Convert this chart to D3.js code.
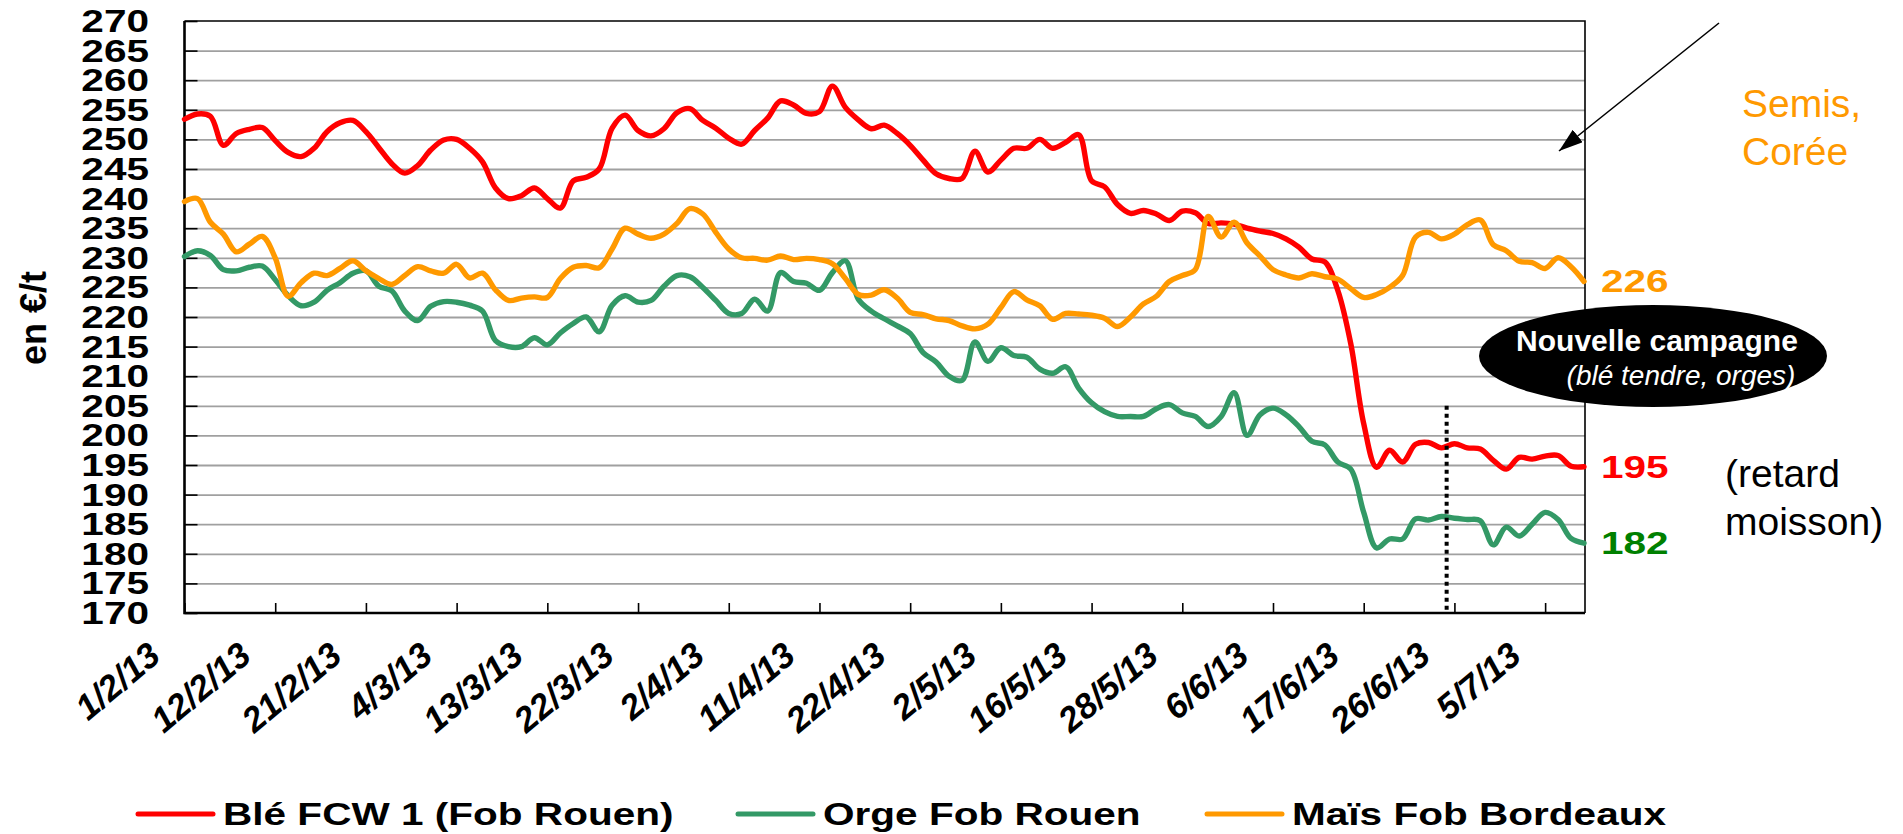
<!DOCTYPE html>
<html>
<head>
<meta charset="utf-8">
<script src="https://cdn.jsdelivr.net/npm/d3@7"></script>
<style>
  body { margin: 0; background: #fff; }
  svg { display: block; font-family: "Liberation Sans", Arial, Helvetica, sans-serif; }
</style>
</head>
<body>
<div id="chart"></div>
<script>
// x axis: one category per quoted day, a label every 7 categories
var tickLabels = ["1/2/13", "12/2/13", "21/2/13", "4/3/13", "13/3/13", "22/3/13", "2/4/13", "11/4/13",
                  "22/4/13", "2/5/13", "16/5/13", "28/5/13", "6/6/13", "17/6/13", "26/6/13", "5/7/13"];
var tickEvery = 7;

// Blé FCW 1 (Fob Rouen), €/t
var ble = [253.4, 254.3, 253.9, 249.0, 251.0, 251.7, 252.0, 249.8, 247.8, 247.1,
           248.5, 251.3, 252.8, 253.2, 251.3, 248.6, 245.9, 244.3, 245.6, 248.2,
           249.9, 250.0, 248.5, 246.2, 241.8, 240.0, 240.5, 241.8, 240.0, 238.4,
           243.0, 243.6, 245.0, 251.9, 254.1, 251.5, 250.6, 251.8, 254.5, 255.2,
           253.2, 251.9, 250.2, 249.2, 251.5, 253.6, 256.5, 255.8, 254.4, 254.7,
           259.0, 255.4, 253.3, 251.8, 252.4, 251.0, 249.0, 246.5, 244.2, 243.4,
           243.4, 248.0, 244.5, 246.5, 248.5, 248.5, 250.0, 248.5, 249.5, 250.8,
           243.0, 242.0, 239.0, 237.5, 238.0, 237.4, 236.3, 237.9, 237.6, 235.8,
           235.9, 235.7, 235.0, 234.5, 234.1, 233.2, 231.8, 229.8, 229.3, 224.5,
           215.5, 202.0, 194.6, 197.5, 195.5, 198.5, 198.8, 197.9, 198.6, 197.9,
           197.7, 195.8, 194.3, 196.3, 196.0, 196.5, 196.6, 194.8, 194.7];

// Orge Fob Rouen, €/t
var orge = [230.2, 231.2, 230.4, 228.0, 227.8, 228.4, 228.6, 226.3, 223.6, 221.9,
            222.5, 224.5, 225.8, 227.4, 227.8, 225.2, 224.4, 221.0, 219.4, 221.8,
            222.6, 222.5, 222.0, 221.0, 216.0, 215.0, 215.0, 216.5, 215.3, 217.3,
            218.9, 220.0, 217.5, 222.0, 223.6, 222.5, 222.8, 225.2, 227.0, 226.8,
            225.0, 222.8, 220.6, 220.6, 223.0, 221.0, 227.5, 226.0, 225.7, 224.5,
            227.5, 229.5, 223.0, 221.0, 219.7, 218.5, 217.2, 214.0, 212.4, 210.0,
            209.3, 215.8, 212.5, 214.8, 213.5, 213.2, 211.2, 210.5, 211.6, 208.0,
            205.5, 204.0, 203.2, 203.2, 203.2, 204.5, 205.2, 203.8, 203.2, 201.5,
            203.2, 207.2, 200.0, 203.5, 204.6, 203.5, 201.5, 199.0, 198.4, 195.5,
            194.3, 187.0, 181.0, 182.5, 182.5, 185.9, 185.7, 186.3, 186.0, 185.8,
            185.6, 181.5, 184.5, 183.0, 185.0, 187.0, 185.8, 182.6, 181.8];

// Maïs Fob Bordeaux, €/t
var mais = [239.5, 240.0, 236.0, 234.0, 231.0, 232.3, 233.6, 230.0, 223.5, 225.8,
            227.4, 227.0, 228.2, 229.5, 227.8, 226.5, 225.5, 227.0, 228.5, 227.8,
            227.4, 228.9, 226.6, 227.4, 224.6, 222.8, 223.2, 223.4, 223.3, 226.5,
            228.4, 228.7, 228.3, 231.5, 235.0, 234.0, 233.3, 234.0, 235.8, 238.3,
            237.4, 234.3, 231.5, 230.0, 229.9, 229.6, 230.3, 229.7, 229.9, 229.7,
            229.0, 226.5, 223.8, 223.7, 224.6, 223.2, 220.8, 220.4, 219.7, 219.4,
            218.5, 218.0, 218.8, 221.6, 224.3, 222.9, 221.9, 219.6, 220.6, 220.5,
            220.3, 219.8, 218.4, 220.0, 222.2, 223.5, 226.0, 227.0, 228.0, 237.0,
            233.5, 236.0, 232.5, 230.3, 228.0, 227.1, 226.6, 227.3, 226.8, 226.4,
            224.8, 223.3, 223.8, 225.0, 227.0, 233.5, 234.3, 233.2, 234.0, 235.6,
            236.4, 232.2, 231.2, 229.4, 229.2, 228.2, 230.0, 228.5, 226.0];

var seriesNames = ["Blé FCW 1 (Fob Rouen)", "Orge Fob Rouen", "Maïs Fob Bordeaux"];
var seriesColors = ["#ff0000", "#339966", "#ff9900"];
var labelColors = ["#ff0000", "#008000", "#ff9900"];
var seriesValues = [ble, orge, mais];

var W = 1903, H = 834;
var plot = {left: 184.5, right: 1585, top: 21, bottom: 613};
var SX = 1.33;   // chart text is drawn wide in the original

var x = d3.scaleLinear().domain([0, ble.length - 1]).range([plot.left, 1584]);
var y = d3.scaleLinear().domain([170, 270]).range([plot.bottom, plot.top]);

var svg = d3.select("#chart").append("svg")
    .attr("width", W)
    .attr("height", H);

// horizontal gridlines
svg.append("g")
    .attr("transform", "translate(" + plot.left + ",0)")
    .call(d3.axisLeft(y).ticks(20).tickSize(-(plot.right - plot.left)).tickFormat(""))
    .call(function(g) { g.select(".domain").remove(); })
    .call(function(g) { g.selectAll(".tick").filter(function(d) { return d === 170 || d === 270; }).remove(); })
    .call(function(g) { g.selectAll("line").attr("stroke", "#a0a0a0").attr("stroke-width", 1.8); });

// y tick marks (inside)
svg.append("g")
    .attr("transform", "translate(" + plot.left + ",0)")
    .call(d3.axisLeft(y).ticks(20).tickSize(-13).tickFormat(""))
    .call(function(g) { g.select(".domain").remove(); })
    .call(function(g) { g.selectAll("line").attr("stroke", "#000").attr("stroke-width", 1.6); });

// x tick marks (inside)
svg.append("g")
    .attr("transform", "translate(0," + plot.bottom + ")")
    .call(d3.axisBottom(x).tickValues(tickLabels.map(function(d, k) { return k * tickEvery; })).tickSize(-10).tickFormat(""))
    .call(function(g) { g.select(".domain").remove(); })
    .call(function(g) { g.selectAll("line").attr("stroke", "#000").attr("stroke-width", 1.6); });

// frame
svg.append("path")
    .attr("d", "M" + plot.left + "," + plot.top + "H" + plot.right + "V" + plot.bottom)
    .attr("fill", "none").attr("stroke", "#000").attr("stroke-width", 1.6);
svg.append("path")
    .attr("d", "M" + plot.left + "," + plot.top + "V" + plot.bottom + "H" + plot.right)
    .attr("fill", "none").attr("stroke", "#000").attr("stroke-width", 2.6);

// y labels
y.ticks(20).forEach(function(t) {
    svg.append("g")
        .attr("transform", "translate(149," + y(t) + ") scale(" + SX + ",1)")
      .append("text")
        .attr("text-anchor", "end")
        .attr("dy", "0.36em")
        .attr("font-size", 30.5)
        .attr("font-weight", "bold")
        .text(t);
});

// x labels, slanted
tickLabels.forEach(function(lab, k) {
    svg.append("g")
        .attr("transform", "translate(" + (x(k * tickEvery) - 22) + ",659) rotate(-40)")
      .append("text")
        .attr("text-anchor", "end")
        .attr("font-size", 35)
        .attr("font-weight", "bold")
        .attr("font-style", "italic")
        .text(lab);
});

// y title
svg.append("text")
    .attr("transform", "translate(46,318) rotate(-90)")
    .attr("text-anchor", "middle")
    .attr("font-size", 36)
    .attr("font-weight", "bold")
    .text("en €/t");

// lines
var line = d3.line()
    .curve(d3.curveCatmullRom.alpha(0.5))
    .x(function(d, i) { return x(i); })
    .y(function(d) { return y(d); });

seriesValues.forEach(function(vals, s) {
    svg.append("path")
        .datum(vals)
        .attr("d", line)
        .attr("fill", "none")
        .attr("stroke", seriesColors[s])
        .attr("stroke-width", 5.4)
        .attr("stroke-linejoin", "round")
        .attr("stroke-linecap", "round");
});

// last values at the right
seriesValues.forEach(function(vals, s) {
    var last = vals[vals.length - 1];
    svg.append("g")
        .attr("transform", "translate(1601," + y(last) + ") scale(" + SX + ",1)")
      .append("text")
        .attr("dy", "0.36em")
        .attr("font-size", 30.5)
        .attr("font-weight", "bold")
        .attr("fill", labelColors[s])
        .text(Math.round(last));
});

// dotted marker: start of the new campaign
svg.append("line")
    .attr("x1", x(97.4)).attr("x2", x(97.4))
    .attr("y1", y(205)).attr("y2", plot.bottom)
    .attr("stroke", "#000")
    .attr("stroke-width", 4)
    .attr("stroke-dasharray", "4,4");

// ellipse annotation
svg.append("ellipse")
    .attr("cx", 1653).attr("cy", 356)
    .attr("rx", 174).attr("ry", 51)
    .attr("fill", "#000");
svg.append("text")
    .attr("x", 1657).attr("y", 351)
    .attr("text-anchor", "middle")
    .attr("font-size", 30)
    .attr("font-weight", "bold")
    .attr("fill", "#fff")
    .text("Nouvelle campagne");
svg.append("text")
    .attr("x", 1681).attr("y", 385)
    .attr("text-anchor", "middle")
    .attr("font-size", 28)
    .attr("font-style", "italic")
    .attr("fill", "#fff")
    .text("(blé tendre, orges)");

// arrow + "Semis, Corée"
var defs = svg.append("defs");
defs.append("marker")
    .attr("id", "arrowhead")
    .attr("viewBox", "0 0 10 10")
    .attr("refX", 10).attr("refY", 5)
    .attr("markerUnits", "userSpaceOnUse")
    .attr("markerWidth", 24).attr("markerHeight", 16)
    .attr("preserveAspectRatio", "none")
    .attr("orient", "auto")
  .append("path")
    .attr("d", "M0,0L10,5L0,10z")
    .attr("fill", "#000");

svg.append("line")
    .attr("x1", 1719).attr("y1", 23)
    .attr("x2", 1559).attr("y2", 151)
    .attr("stroke", "#000")
    .attr("stroke-width", 1.6)
    .attr("marker-end", "url(#arrowhead)");

svg.append("text").attr("x", 1742).attr("y", 117)
    .attr("font-size", 39).attr("fill", "#ff9900").text("Semis,");
svg.append("text").attr("x", 1742).attr("y", 165)
    .attr("font-size", 39).attr("fill", "#ff9900").text("Corée");

svg.append("text").attr("x", 1725).attr("y", 487)
    .attr("font-size", 39).attr("fill", "#000").text("(retard");
svg.append("text").attr("x", 1725).attr("y", 535)
    .attr("font-size", 39).attr("fill", "#000").text("moisson)");

// legend
var legendX = [138, 738, 1207];
seriesNames.forEach(function(name, s) {
    svg.append("line")
        .attr("x1", legendX[s]).attr("x2", legendX[s] + 75)
        .attr("y1", 814).attr("y2", 814)
        .attr("stroke", seriesColors[s])
        .attr("stroke-width", 5)
        .attr("stroke-linecap", "round");
    svg.append("g")
        .attr("transform", "translate(" + (legendX[s] + 85) + ",825) scale(" + SX + ",1)")
      .append("text")
        .attr("font-size", 30.5)
        .attr("font-weight", "bold")
        .text(name);
});
</script>
</body>
</html>
